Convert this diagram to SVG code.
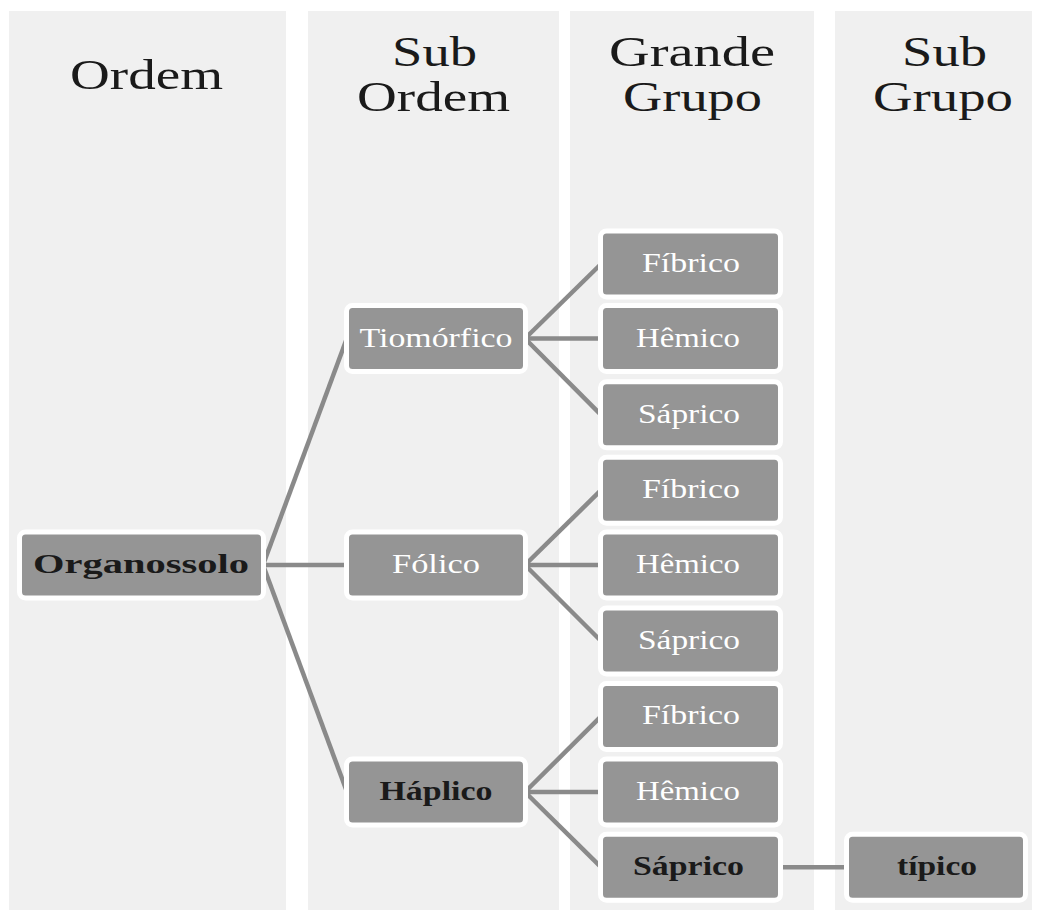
<svg xmlns="http://www.w3.org/2000/svg" width="1040" height="910" viewBox="0 0 1040 910">
<style>
.panel{fill:#f0f0f0}
.hd{font-family:"Liberation Serif","Times New Roman",serif;font-size:42px;fill:#1a1a1a;text-anchor:middle}
.box{fill:#959595;stroke:#ffffff;stroke-width:5}
.t{font-family:"Liberation Serif","Times New Roman",serif;font-size:28px;fill:#ffffff;text-anchor:middle}
.b{font-family:"Liberation Serif","Times New Roman",serif;font-size:28px;font-weight:bold;fill:#1a1a1a;text-anchor:middle}
.c{stroke:#8a8a8a;stroke-width:4.5;fill:none;stroke-linecap:butt}
</style>
<rect width="1040" height="910" fill="#ffffff"/>
<g id="panels">
<rect class="panel" x="9" y="11" width="277" height="899"/>
<rect class="panel" x="308" y="11" width="251" height="899"/>
<rect class="panel" x="570" y="11" width="244" height="899"/>
<rect class="panel" x="835" y="11" width="197" height="899"/>
</g>
<g id="headers">
<text class="hd" x="146.5" y="89" textLength="153" lengthAdjust="spacingAndGlyphs">Ordem</text>
<text class="hd" x="434.5" y="66" textLength="85" lengthAdjust="spacingAndGlyphs">Sub</text>
<text class="hd" x="433.5" y="111" textLength="153" lengthAdjust="spacingAndGlyphs">Ordem</text>
<text class="hd" x="692" y="66" textLength="166" lengthAdjust="spacingAndGlyphs">Grande</text>
<text class="hd" x="692.5" y="111" textLength="139" lengthAdjust="spacingAndGlyphs">Grupo</text>
<text class="hd" x="944.5" y="66" textLength="85" lengthAdjust="spacingAndGlyphs">Sub</text>
<text class="hd" x="943" y="111" textLength="140" lengthAdjust="spacingAndGlyphs">Grupo</text>
</g>
<g id="connectors">
<line class="c" x1="263" y1="565" x2="347" y2="338"/>
<line class="c" x1="263" y1="565" x2="347" y2="565"/>
<line class="c" x1="263" y1="565" x2="347" y2="792"/>
<line class="c" x1="525" y1="338.5" x2="601" y2="264"/>
<line class="c" x1="525" y1="338.5" x2="601" y2="338.5"/>
<line class="c" x1="525" y1="338.5" x2="601" y2="414.8"/>
<line class="c" x1="525" y1="565" x2="601" y2="490.2"/>
<line class="c" x1="525" y1="565" x2="601" y2="565"/>
<line class="c" x1="525" y1="565" x2="601" y2="641"/>
<line class="c" x1="525" y1="792" x2="601" y2="716.4"/>
<line class="c" x1="525" y1="792" x2="601" y2="792"/>
<line class="c" x1="525" y1="792" x2="601" y2="867.2"/>
<line class="c" x1="780" y1="867.2" x2="847" y2="867.2"/>
</g>
<g id="n-organossolo"><rect class="box" x="19.5" y="532" width="244" height="66" rx="6"/><text class="b" x="141" y="573" textLength="216" lengthAdjust="spacingAndGlyphs">Organossolo</text></g>
<g id="n-tiomorfico"><rect class="box" x="346.5" y="305.5" width="179" height="66" rx="6"/><text class="t" x="436" y="346.5" textLength="153" lengthAdjust="spacingAndGlyphs">Tiomórfico</text></g>
<g id="n-folico"><rect class="box" x="346.5" y="532" width="179" height="66" rx="6"/><text class="t" x="436" y="573" textLength="88" lengthAdjust="spacingAndGlyphs">Fólico</text></g>
<g id="n-haplico"><rect class="box" x="346.5" y="759" width="179" height="66" rx="6"/><text class="b" x="436" y="800" textLength="113" lengthAdjust="spacingAndGlyphs">Háplico</text></g>
<g id="n-fibrico1"><rect class="box" x="600.5" y="231" width="180" height="66" rx="6"/><text class="t" x="691" y="272" textLength="98" lengthAdjust="spacingAndGlyphs">Fíbrico</text></g>
<g id="n-hemico1"><rect class="box" x="600.5" y="305.5" width="180" height="66" rx="6"/><text class="t" x="688" y="346.5" textLength="104" lengthAdjust="spacingAndGlyphs">Hêmico</text></g>
<g id="n-saprico1"><rect class="box" x="600.5" y="381.8" width="180" height="66" rx="6"/><text class="t" x="689" y="422.8" textLength="102" lengthAdjust="spacingAndGlyphs">Sáprico</text></g>
<g id="n-fibrico2"><rect class="box" x="600.5" y="457.2" width="180" height="66" rx="6"/><text class="t" x="691" y="498.2" textLength="98" lengthAdjust="spacingAndGlyphs">Fíbrico</text></g>
<g id="n-hemico2"><rect class="box" x="600.5" y="532" width="180" height="66" rx="6"/><text class="t" x="688" y="573" textLength="104" lengthAdjust="spacingAndGlyphs">Hêmico</text></g>
<g id="n-saprico2"><rect class="box" x="600.5" y="608" width="180" height="66" rx="6"/><text class="t" x="689" y="649" textLength="102" lengthAdjust="spacingAndGlyphs">Sáprico</text></g>
<g id="n-fibrico3"><rect class="box" x="600.5" y="683.4" width="180" height="66" rx="6"/><text class="t" x="691" y="724.4" textLength="98" lengthAdjust="spacingAndGlyphs">Fíbrico</text></g>
<g id="n-hemico3"><rect class="box" x="600.5" y="759" width="180" height="66" rx="6"/><text class="t" x="688" y="800" textLength="104" lengthAdjust="spacingAndGlyphs">Hêmico</text></g>
<g id="n-saprico3"><rect class="box" x="600.5" y="834.2" width="180" height="66" rx="6"/><text class="b" x="688.5" y="875.2" textLength="111" lengthAdjust="spacingAndGlyphs">Sáprico</text></g>
<g id="n-tipico"><rect class="box" x="846.5" y="834.2" width="179" height="66" rx="6"/><text class="b" x="937" y="875.2" textLength="80" lengthAdjust="spacingAndGlyphs">típico</text></g>
</svg>
